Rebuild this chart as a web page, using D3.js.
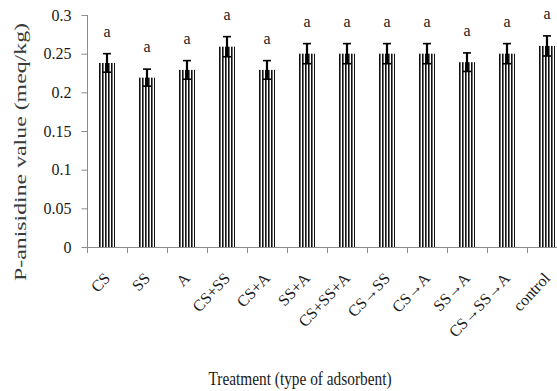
<!DOCTYPE html>
<html>
<head>
<meta charset="utf-8">
<script src="https://cdn.jsdelivr.net/npm/d3@7"></script>
<style>
  html, body { margin: 0; padding: 0; background: #fff; }
  svg { display: block; }
  text { font-family: "Liberation Serif", "Times New Roman", serif; fill: #1a1a1a; }
</style>
</head>
<body>
<div id="chart"></div>
<script>
// Treatments (adsorbent type)
const categories = ["CS", "SS", "A", "CS+SS", "CS+A", "SS+A", "CS+SS+A",
  "CS\u2192SS", "CS\u2192A", "SS\u2192A", "CS\u2192SS\u2192A", "control"];
// Mean p-anisidine value (meq/kg)
const values = [0.238, 0.219, 0.229, 0.259, 0.229, 0.25, 0.25, 0.25, 0.25, 0.239, 0.25, 0.26];
// Standard error
const errors = [0.012, 0.011, 0.012, 0.013, 0.012, 0.013, 0.013, 0.013, 0.013, 0.012, 0.013, 0.013];
// Significance letters
const letters = ["a", "a", "a", "a", "a", "a", "a", "a", "a", "a", "a", "a"];
// Y-axis ticks
const yTicks = [0, 0.05, 0.1, 0.15, 0.2, 0.25, 0.3];
const yTickLabels = ["0", "0.05", "0.1", "0.15", "0.2", "0.25", "0.3"];

const W = 557, H = 391;
const svg = d3.select("#chart").append("svg").attr("width", W).attr("height", H);

const x = d3.scaleBand().domain(categories).range([87, 567]).paddingInner(0.6).paddingOuter(0.3);
const y = d3.scaleLinear().domain([0, 0.3]).range([247, 15]);

// vertical stripe fill for the bars
const defs = svg.append("defs");
const pat = defs.append("pattern").attr("id", "stripes")
  .attr("patternUnits", "objectBoundingBox")
  .attr("x", 0).attr("y", 0)
  .attr("width", 3 / x.bandwidth()).attr("height", 1);
pat.append("rect").attr("x", 0).attr("y", 0).attr("width", 1).attr("height", 400).attr("fill", "#111");
pat.append("rect").attr("x", 1).attr("y", 0).attr("width", 1).attr("height", 400).attr("fill", "#707070");
pat.append("rect").attr("x", 2).attr("y", 0).attr("width", 1).attr("height", 400).attr("fill", "#fff");

// Y axis
const yAxis = svg.append("g").attr("transform", "translate(87.5,0)")
  .call(d3.axisLeft(y).tickValues(yTicks).tickSize(6).tickPadding(10)
    .tickFormat((d, i) => yTickLabels[i]));
yAxis.attr("font-family", null).attr("font-size", null);
yAxis.select(".domain").attr("stroke", "#8c8c8c").attr("d", `M0,${y(0.3)}V${y(0)}`);
yAxis.selectAll(".tick line").attr("stroke", "#8c8c8c");
yAxis.selectAll(".tick text").style("font-size", "16px").attr("fill", "#1a1a1a");

// Bars
svg.append("g").selectAll("rect").data(values).join("rect")
  .attr("x", (d, i) => x(categories[i]))
  .attr("y", d => y(d))
  .attr("width", x.bandwidth())
  .attr("height", d => y(0) - y(d))
  .attr("fill", "url(#stripes)");

// X axis line and category boundary ticks
const xAxis = svg.append("g");
xAxis.append("line").attr("x1", 87).attr("x2", 570)
  .attr("y1", y(0) + 0.5).attr("y2", y(0) + 0.5).attr("stroke", "#8c8c8c");
const step = x.step();
xAxis.selectAll("line.tk").data(d3.range(categories.length + 1)).join("line")
  .attr("class", "tk")
  .attr("x1", i => Math.round(x(categories[0]) - x.paddingOuter() * step + i * step) + 0.5)
  .attr("x2", i => Math.round(x(categories[0]) - x.paddingOuter() * step + i * step) + 0.5)
  .attr("y1", y(0)).attr("y2", y(0) + 6).attr("stroke", "#8c8c8c");

// Error bars
const eb = svg.append("g").attr("stroke", "#000");
values.forEach((v, i) => {
  const cx = x(categories[i]) + x.bandwidth() / 2;
  const top = y(v + errors[i]), bot = y(v - errors[i]);
  eb.append("line").attr("x1", cx).attr("x2", cx).attr("y1", top).attr("y2", bot).attr("stroke-width", 2.2);
  eb.append("line").attr("x1", cx - 4).attr("x2", cx + 4).attr("y1", top).attr("y2", top).attr("stroke-width", 1.6);
  eb.append("line").attr("x1", cx - 4).attr("x2", cx + 4).attr("y1", bot).attr("y2", bot).attr("stroke-width", 1.6);
});

// Significance letters
svg.append("g").selectAll("text").data(letters).join("text")
  .attr("x", (d, i) => x(categories[i]) + x.bandwidth() / 2)
  .attr("y", (d, i) => y(values[i] + errors[i]) - 17)
  .attr("text-anchor", "middle")
  .style("font-size", "16px")
  .text(d => d);

// Category labels, rotated
svg.append("g").selectAll("text").data(categories).join("text")
  .attr("transform", d => `translate(${x(d) + x.bandwidth() / 2 + 4},279) rotate(-47)`)
  .attr("text-anchor", "end")
  .style("font-size", "16px")
  .text(d => d);

// Axis titles
svg.append("text")
  .attr("x", 300).attr("y", 385)
  .attr("text-anchor", "middle")
  .attr("textLength", 183).attr("lengthAdjust", "spacingAndGlyphs")
  .style("font-size", "19px")
  .text("Treatment (type of adsorbent)");

svg.append("text")
  .attr("transform", "translate(26,152) rotate(-90)")
  .attr("text-anchor", "middle")
  .attr("textLength", 258).attr("lengthAdjust", "spacingAndGlyphs")
  .style("font-size", "17px")
  .style("fill", "#3a3a3a")
  .text("P-anisidine value (meq/kg)");
</script>
</body>
</html>
